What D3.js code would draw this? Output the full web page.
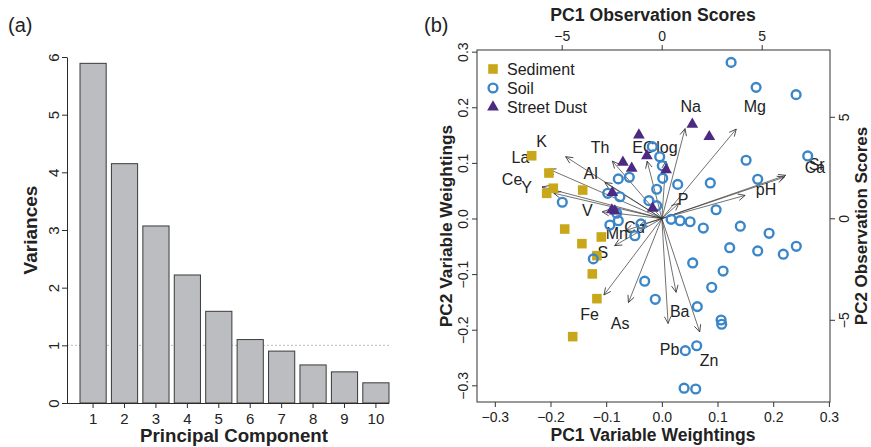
<!DOCTYPE html>
<html>
<head>
  <meta charset="UTF-8">
  <title>PCA scree plot and biplot</title>
  <script src="https://d3js.org/d3.v7.min.js"></script>
  <style>
    body { margin: 0; background: #fff; }
    text { font-family: "Liberation Sans", Arial, Helvetica, sans-serif; fill: #222; }
  </style>
</head>
<body>
  <svg width="871" height="447"></svg>

  <script>
    // scree plot
    const components = [1, 2, 3, 4, 5, 6, 7, 8, 9, 10];
    const variances = [5.89, 4.15, 3.07, 2.22, 1.59, 1.10, 0.90, 0.66, 0.54, 0.35];

    // observation scores (PC1, PC2)
    const sedimentPC1 = [-6.50, -5.64, -5.42, -5.75, -3.95, -4.85, -3.99, -3.02, -3.24, -3.47, -3.24, -4.45];
    const sedimentPC2 = [3.08, 2.23, 1.48, 1.23, 1.39, -0.53, -1.25, -0.92, -1.84, -2.74, -3.96, -5.83];

    const soilPC1 = [3.47, 4.72, 6.72, 7.30, 4.22, 4.80, 2.43, 0.80, -0.47, -0.10, 0.03, 0.05, -0.25,
      -0.64, -0.25, -2.17, -1.62, -2.70, -2.09, -4.97, 2.72, 0.47, 0.92, 1.42, 2.08, 3.93, 5.37,
      6.73, 3.40, 4.80, 6.08, 1.55, 3.07, 2.50, -0.85, -0.32, 1.78, 2.97, 3.00, 1.18, 1.75, 1.12,
      1.70, -3.42, -1.34, -1.04, -2.59, -2.17, -2.25];
    const soilPC2 = [7.68, 6.45, 6.09, 3.07, 2.86, 1.92, 1.74, 1.67, 3.53, 3.03, 2.59, 1.97, 1.43,
      0.87, 0.62, 1.94, 2.02, 1.23, 1.06, 0.79, 0.42, -0.05, -0.12, -0.17, -0.48, -0.39, -0.74,
      -1.38, -1.45, -1.61, -1.77, -2.20, -2.60, -3.40, -3.10, -3.99, -4.35, -5.01, -5.22, -6.52,
      -6.28, -8.37, -8.41, -2.00, -0.86, -0.28, -0.33, -0.12, 0.25];

    const dustPC1 = [1.53, 2.38, -1.14, -0.74, -1.94, -1.50, 0.22, -2.47, -2.49, -2.34, -0.45];
    const dustPC2 = [4.63, 4.02, 4.10, 3.08, 2.76, 2.46, 2.38, 1.26, 0.41, 0.36, 0.49];

    // variable weightings (loadings)
    const varNames = ["Na", "Mg", "K", "Th", "EC", "log", "La", "Al", "Ce", "Y", "V", "P", "pH",
      "Sr", "Ca", "Mn", "Cu", "S", "Fe", "As", "Ba", "Pb", "Zn"];
    const varPC1 = [0.052, 0.167, -0.216, -0.111, -0.033, 0.009, -0.254, -0.128, -0.269, -0.243,
      -0.134, 0.038, 0.187, 0.278, 0.275, -0.081, -0.049, -0.106, -0.130, -0.075, 0.032, 0.014, 0.085];
    const varPC2 = [0.202, 0.201, 0.139, 0.129, 0.129, 0.129, 0.111, 0.081, 0.071, 0.057,
      0.015, 0.034, 0.052, 0.097, 0.093, -0.027, -0.015, -0.061, -0.172, -0.189, -0.166, -0.236, -0.255];

    const groupNames = ["Sediment", "Soil", "Street Dust"];
    const groupColors = ["#c9a71b", "#3a86c8", "#4d2a82"];

    const svg = d3.select("svg");
    const ink = "#2b2b2b";

    // ---------- (a) scree plot ----------
    svg.append("text").attr("x", 8).attr("y", 32).attr("font-size", 20).text("(a)");

    const xBar = d3.scaleBand().domain(components).range([80, 389]).paddingInner(0.1667).paddingOuter(0);
    const yVar = d3.scaleLinear().domain([0, 6]).range([403, 57]);

    svg.append("line")
      .attr("x1", 67).attr("x2", 389)
      .attr("y1", yVar(1)).attr("y2", yVar(1))
      .attr("stroke", "#bbb").attr("stroke-width", 1).attr("stroke-dasharray", "2,2");

    svg.append("g")
      .selectAll("rect")
      .data(components)
      .join("rect")
      .attr("x", d => xBar(d))
      .attr("y", (d, i) => yVar(variances[i]))
      .attr("width", xBar.bandwidth())
      .attr("height", (d, i) => yVar(0) - yVar(variances[i]))
      .attr("fill", "#bcbdc1")
      .attr("stroke", "#3a3a3a")
      .attr("stroke-width", 1);

    const yAxisA = svg.append("g")
      .attr("transform", "translate(67,0)")
      .call(d3.axisLeft(yVar).ticks(6).tickSize(5).tickSizeOuter(0));
    yAxisA.select(".domain").attr("stroke", ink);
    yAxisA.selectAll("line").attr("stroke", ink);
    yAxisA.selectAll("text")
      .attr("transform", "rotate(-90)")
      .attr("x", 0).attr("y", -8.5).attr("dy", 0)
      .attr("text-anchor", "middle")
      .attr("font-size", 15).attr("fill", "#333");

    svg.append("line").attr("x1", 67).attr("x2", 389)
      .attr("y1", 403.5).attr("y2", 403.5).attr("stroke", ink);

    const xAxisA = svg.append("g")
      .attr("transform", "translate(0,403)")
      .call(d3.axisBottom(xBar).tickSize(5).tickSizeOuter(0));
    xAxisA.select(".domain").remove();
    xAxisA.selectAll("line").attr("stroke", ink);
    xAxisA.selectAll("text").attr("font-size", 15).attr("fill", "#333").attr("y", 10);

    svg.append("text")
      .attr("transform", "translate(37,230) rotate(-90)")
      .attr("text-anchor", "middle").attr("font-size", 19).attr("font-weight", "bold")
      .text("Variances");
    svg.append("text")
      .attr("x", 234).attr("y", 442)
      .attr("text-anchor", "middle").attr("font-size", 18.7).attr("font-weight", "bold")
      .text("Principal Component");

    // ---------- (b) biplot ----------
    svg.append("text").attr("x", 424).attr("y", 32).attr("font-size", 20).text("(b)");

    const box = { left: 477, right: 830, top: 50, bottom: 402 };
    const xW = d3.scaleLinear().domain([-0.332, 0.302]).range([box.left, box.right]);
    const yW = d3.scaleLinear().domain([-0.330, 0.303]).range([box.bottom, box.top]);
    const xS = d3.scaleLinear().domain([-9.235, 8.415]).range([box.left, box.right]);
    const yS = d3.scaleLinear().domain([-9.05, 8.29]).range([box.bottom, box.top]);

    svg.append("defs").append("marker")
      .attr("id", "arrowhead")
      .attr("viewBox", "-9 -5 10 10")
      .attr("refX", 0).attr("refY", 0)
      .attr("markerWidth", 10).attr("markerHeight", 10)
      .attr("markerUnits", "userSpaceOnUse")
      .attr("orient", "auto")
      .append("path")
      .attr("d", "M-7,-3.3L0,0L-7,3.3")
      .attr("fill", "none").attr("stroke", "#333").attr("stroke-width", 0.8);

    // arrows drawn to 80% of the loading, labels at the loading
    svg.append("g")
      .selectAll("line")
      .data(varNames)
      .join("line")
      .attr("x1", xW(0)).attr("y1", yW(0))
      .attr("x2", (d, i) => xW(varPC1[i] * 0.8))
      .attr("y2", (d, i) => yW(varPC2[i] * 0.8))
      .attr("stroke", "#333").attr("stroke-width", 0.7)
      .attr("marker-end", "url(#arrowhead)");

    svg.append("g")
      .selectAll("text")
      .data(varNames)
      .join("text")
      .attr("x", (d, i) => xW(varPC1[i]))
      .attr("y", (d, i) => yW(varPC2[i]))
      .attr("dy", "0.36em")
      .attr("text-anchor", "middle")
      .attr("font-size", 16).attr("fill", "#333")
      .text(d => d);

    // points
    svg.append("g")
      .selectAll("path")
      .data(sedimentPC1)
      .join("path")
      .attr("d", d3.symbol(d3.symbolSquare, 92))
      .attr("transform", (d, i) => `translate(${xS(d)},${yS(sedimentPC2[i])})`)
      .attr("fill", groupColors[0]);

    svg.append("g")
      .selectAll("circle")
      .data(soilPC1)
      .join("circle")
      .attr("cx", d => xS(d))
      .attr("cy", (d, i) => yS(soilPC2[i]))
      .attr("r", 4.4)
      .attr("fill", "none")
      .attr("stroke", groupColors[1]).attr("stroke-width", 2.4);

    svg.append("g")
      .selectAll("path")
      .data(dustPC1)
      .join("path")
      .attr("d", d3.symbol(d3.symbolTriangle, 60))
      .attr("transform", (d, i) => `translate(${xS(d)},${yS(dustPC2[i])})`)
      .attr("fill", groupColors[2]);

    // box
    svg.append("rect")
      .attr("x", box.left).attr("y", box.top)
      .attr("width", box.right - box.left).attr("height", box.bottom - box.top)
      .attr("fill", "none").attr("stroke", "#333").attr("stroke-width", 1);

    function styleAxis(g) {
      g.select(".domain").remove();
      g.selectAll("line").attr("stroke", "#333");
      g.selectAll("text").attr("font-size", 14).attr("fill", "#333");
    }

    const wTicks = [-0.3, -0.2, -0.1, 0, 0.1, 0.2, 0.3];
    const fmt = d3.format(".1f");

    svg.append("g")
      .attr("transform", `translate(0,${box.bottom})`)
      .call(d3.axisBottom(xW).tickValues(wTicks).tickFormat(fmt).tickSize(5))
      .call(styleAxis)
      .selectAll("text").attr("y", 10);

    svg.append("g")
      .attr("transform", `translate(${box.left},0)`)
      .call(d3.axisLeft(yW).tickValues(wTicks).tickFormat(fmt).tickSize(5))
      .call(styleAxis)
      .selectAll("text")
      .attr("transform", "rotate(-90)")
      .attr("x", 0).attr("y", -9).attr("dy", 0)
      .attr("text-anchor", "middle");

    svg.append("g")
      .attr("transform", `translate(0,${box.top})`)
      .call(d3.axisTop(xS).tickValues([-5, 0, 5]).tickSize(5))
      .call(styleAxis)
      .selectAll("text").attr("y", -9);

    svg.append("g")
      .attr("transform", `translate(${box.right},0)`)
      .call(d3.axisRight(yS).tickValues([-5, 0, 5]).tickSize(5))
      .call(styleAxis)
      .selectAll("text")
      .attr("transform", "rotate(-90)")
      .attr("x", 0).attr("y", 19).attr("dy", 0)
      .attr("text-anchor", "middle");

    // axis titles
    svg.append("text")
      .attr("x", 653).attr("y", 21)
      .attr("text-anchor", "middle").attr("font-size", 17.6).attr("font-weight", "bold")
      .text("PC1 Observation Scores");
    svg.append("text")
      .attr("x", 653).attr("y", 441)
      .attr("text-anchor", "middle").attr("font-size", 17.5).attr("font-weight", "bold")
      .text("PC1 Variable Weightings");
    svg.append("text")
      .attr("transform", "translate(452,226) rotate(-90)")
      .attr("text-anchor", "middle").attr("font-size", 17.3).attr("font-weight", "bold")
      .text("PC2 Variable Weightings");
    svg.append("text")
      .attr("transform", "translate(867,226) rotate(-90)")
      .attr("text-anchor", "middle").attr("font-size", 17).attr("font-weight", "bold")
      .text("PC2 Observation Scores");

    // legend
    const legend = svg.append("g")
      .selectAll("g")
      .data(groupNames)
      .join("g")
      .attr("transform", (d, i) => `translate(493,${69 + i * 19})`);

    legend.append("path")
      .attr("d", (d, i) => {
        if (i === 0) return d3.symbol(d3.symbolSquare, 92)();
        if (i === 2) return d3.symbol(d3.symbolTriangle, 60)();
        return d3.symbol(d3.symbolCircle, 61)();
      })
      .attr("fill", (d, i) => i === 1 ? "none" : groupColors[i])
      .attr("stroke", (d, i) => i === 1 ? groupColors[1] : "none")
      .attr("stroke-width", 2.4);

    legend.append("text")
      .attr("x", 14).attr("dy", "0.36em")
      .attr("font-size", 16).attr("fill", "#333")
      .text(d => d);
  </script>
</body>
</html>
